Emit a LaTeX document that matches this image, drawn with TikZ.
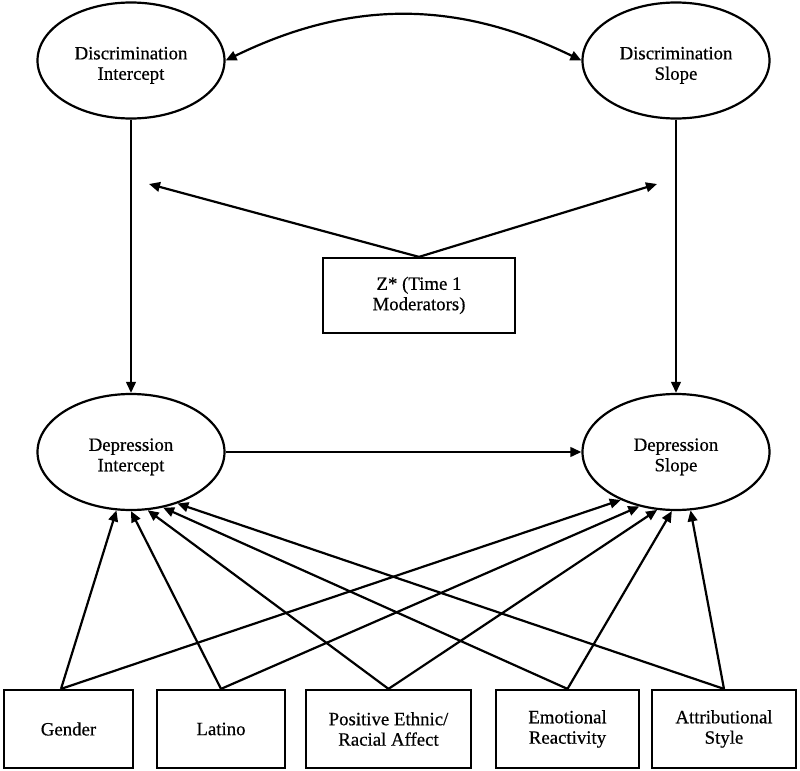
\documentclass[tikz,border=0pt]{standalone}
\usepackage{fontspec}
\setmainfont{Liberation Serif}[BoldFont={Liberation Serif},BoldFeatures={FakeBold=0.5}]
\usetikzlibrary{shapes.geometric,arrows.meta}
\newcommand\mylbl{\fontsize{9.4}{10.2}\selectfont\bfseries}
\newcommand\mytwo[2]{\raisebox{-2.5pt}[\height][\depth]{\begin{tabular}{@{}c@{}}#1\\#2\end{tabular}}}
\begin{document}
\begin{tikzpicture}[x=0.5pt,y=-0.5pt,
  >={Triangle[length=5.5pt,width=4.8pt]},
  lat/.style={ellipse,draw,line width=1.1pt,minimum width=93.5pt,minimum height=58pt,inner sep=0pt,align=center,font=\mylbl},
  obs/.style={rectangle,draw,line width=1.1pt,inner sep=0pt,align=center,font=\mylbl,minimum height=39pt},
  conn/.style={line width=1.1pt,->}]
\useasboundingbox (0,0) rectangle (800,771);
% latent variables
\node[lat] (DI) at (131,60.5) {\mytwo{Discrimination}{Intercept}};
\node[lat] (DS) at (676,60.5) {\mytwo{Discrimination}{Slope}};
\node[lat] (PI) at (131,452) {\mytwo{Depression}{Intercept}};
\node[lat] (PS) at (676,452) {\mytwo{Depression}{Slope}};
% moderator
\node[obs,minimum width=96pt,minimum height=37.5pt] (Z) at (419,295.5) {Z* (Time 1\\Moderators)};
% observed predictors
\node[obs,minimum width=64.5pt] (G) at (68.5,729) {Gender};
\node[obs,minimum width=64pt] (L) at (221,729) {Latino};
\node[obs,minimum width=82.5pt] (P) at (388.5,729) {Positive Ethnic/\\Racial Affect};
\node[obs,minimum width=71.5pt] (E) at (567.5,729) {Emotional\\Reactivity};
\node[obs,minimum width=72pt] (A) at (724,729) {Attributional\\Style};
% free ends of moderator arrows
\coordinate (zl) at (149,184);
\coordinate (zr) at (657,184);
% connectors
\draw[conn,<->] (DI.east) to[bend left=26] (DS.west);
\draw[conn] (DI) -- (PI);
\draw[conn] (DS) -- (PS);
\draw[conn] (PI) -- (PS);
\draw[conn] (Z.north) -- (zl);
\draw[conn] (Z.north) -- (zr);
% predictors to depression intercept
\draw[conn] ([xshift=-3.75pt]G.north) -- (PI.-104);
\draw[conn] (L.north) -- (PI.-90);
\draw[conn] (P.north) -- (PI.-74);
\draw[conn] (E.north) -- (PI.-60);
\draw[conn] (A.north) -- (PI.-48);
% predictors to depression slope
\draw[conn] ([xshift=-3.75pt]G.north) -- (PS.-139.5);
\draw[conn] (L.north) -- (PS.-124);
\draw[conn] (P.north) -- (PS.-108);
\draw[conn] (E.north) -- (PS.-94);
\draw[conn] (A.north) -- (PS.-76);
\end{tikzpicture}
\end{document}
